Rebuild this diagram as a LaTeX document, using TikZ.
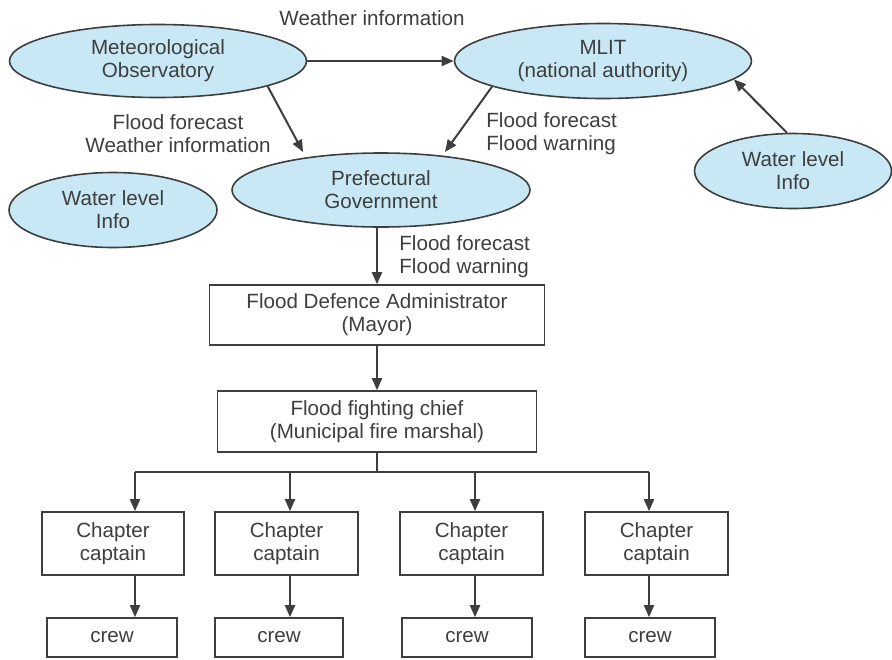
\documentclass[tikz,border=0pt]{standalone}
\usepackage{fontspec}
\setmainfont{Liberation Sans}
\usetikzlibrary{shapes.geometric,arrows.meta}
\definecolor{ellblue}{RGB}{200,232,245}
\definecolor{inkgray}{RGB}{62,62,62}

\begin{document}
\begin{tikzpicture}[x=0.5pt, y=-0.5pt,
    every node/.style={font=\fontsize{10.3}{11.5}\selectfont, text=inkgray},
    office/.style={ellipse, draw=inkgray, fill=ellblue, line width=0.8pt, inner sep=0pt, align=center},
    post/.style={rectangle, draw=inkgray, line width=0.8pt, inner sep=0pt, align=center},
    flow/.style={draw=inkgray, line width=1pt, -{Triangle[length=6pt, width=5pt]}},
    note/.style={inner sep=0pt}]
    \useasboundingbox (0, 0) rectangle (892, 659);

    % Agencies
    \node[office, minimum width=148.5pt, minimum height=36.5pt] (meteo) at (158, 61)
        {Meteorological\\Observatory};
    \node[office, minimum width=148.5pt, minimum height=37.5pt] (mlit) at (603, 61)
        {MLIT\\(national authority)};
    \node[office, minimum width=149pt, minimum height=37pt] (pref) at (381, 190)
        {Prefectural\\Government};
    \node[office, minimum width=104pt, minimum height=37.5pt] (wlleft) at (113, 210)
        {Water level\\Info};
    \node[office, minimum width=98.5pt, minimum height=37.5pt] (wlright) at (793, 171)
        {Water level\\Info};

    % Information flow between agencies
    \coordinate (prefnw) at (303, 152);
    \coordinate (prefne) at (445, 152);
    \draw[flow] (meteo.east) -- (mlit.west);
    \node[note] (weatherinfo) at (372, 18) {Weather information};
    \draw[flow] (meteo.-13) -- (prefnw);
    \draw[flow] (mlit.-167) -- (prefne);
    \draw[flow] (wlright.99) -- (mlit.-8);
    \node[note, align=center] (meteolabel) at (178, 134) {Flood forecast\\Weather information};
    \node[note, align=left, anchor=west] (mlitlabel) at (486, 134) {Flood forecast\\Flood warning};

    % Municipal chain
    \node[post, minimum width=167.5pt, minimum height=30pt] (mayor) at (377, 315)
        {Flood Defence Administrator\\(Mayor)};
    \node[post, minimum width=159.5pt, minimum height=30.5pt] (chief) at (377, 421.5)
        {Flood fighting chief\\(Municipal fire marshal)};
    \draw[flow] (pref.south -| mayor.north) -- (mayor.north);
    \node[note, align=left, anchor=west] (preflabel) at (399, 257) {Flood forecast\\Flood warning};
    \draw[flow] (mayor.south) -- (chief.north);

    % Chapters and crews
    \node[post, minimum width=71pt, minimum height=31.5pt] (cap1) at (113, 543.5) {Chapter\\captain};
    \node[post, minimum width=71.5pt, minimum height=31.5pt] (cap2) at (286.5, 543.5) {Chapter\\captain};
    \node[post, minimum width=71.5pt, minimum height=31.5pt] (cap3) at (471.5, 543.5) {Chapter\\captain};
    \node[post, minimum width=71.5pt, minimum height=31.5pt] (cap4) at (656.5, 543.5) {Chapter\\captain};
    \node[post, minimum width=65pt, minimum height=19.5pt] (crew1) at (112, 637.5) {crew};
    \node[post, minimum width=64pt, minimum height=19.5pt] (crew2) at (279, 637.5) {crew};
    \node[post, minimum width=65pt, minimum height=19.5pt] (crew3) at (467, 637.5) {crew};
    \node[post, minimum width=65pt, minimum height=19.5pt] (crew4) at (650, 637.5) {crew};

    \coordinate (busmid) at (377, 472);
    \coordinate (bus1) at (135, 472);
    \coordinate (bus2) at (290, 472);
    \coordinate (bus3) at (475, 472);
    \coordinate (bus4) at (649, 472);
    \draw[draw=inkgray, line width=1pt] (chief.south) -- (busmid);
    \draw[draw=inkgray, line width=1pt] (bus1) -- (bus4);
    \draw[flow] (bus1) -- (cap1.north -| bus1);
    \draw[flow] (bus2) -- (cap2.north -| bus2);
    \draw[flow] (bus3) -- (cap3.north -| bus3);
    \draw[flow] (bus4) -- (cap4.north -| bus4);
    \draw[flow] (cap1.south -| bus1) -- (crew1.north -| bus1);
    \draw[flow] (cap2.south -| bus2) -- (crew2.north -| bus2);
    \draw[flow] (cap3.south -| bus3) -- (crew3.north -| bus3);
    \draw[flow] (cap4.south -| bus4) -- (crew4.north -| bus4);
\end{tikzpicture}
\end{document}
